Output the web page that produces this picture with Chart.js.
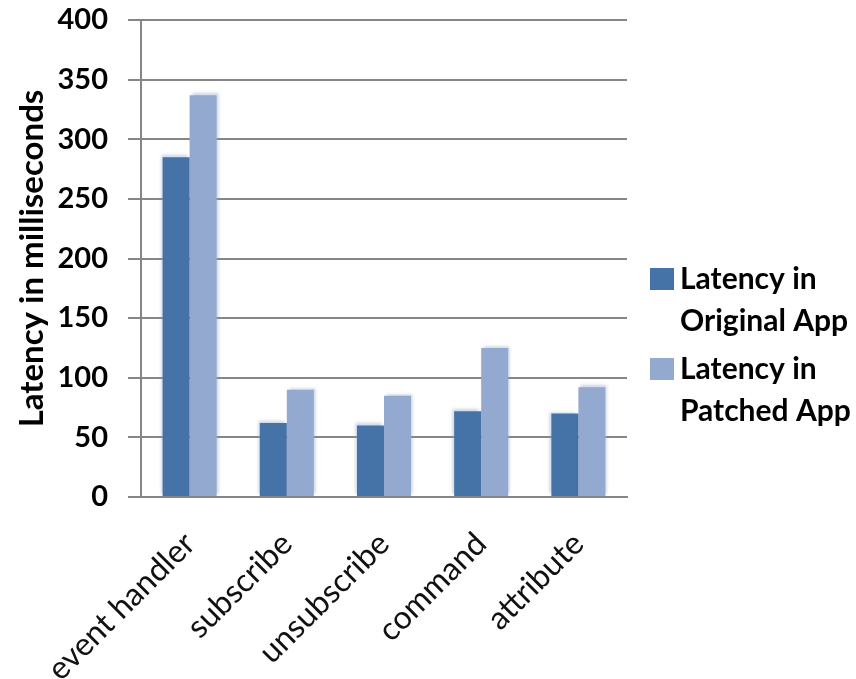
<!DOCTYPE html>
<html>
<head>
<meta charset="utf-8">
<script src="https://cdn.jsdelivr.net/npm/chart.js@4/dist/chart.umd.min.js"></script>
<style>
  html, body { margin: 0; padding: 0; background: #ffffff; }
  #wrap { width: 856px; height: 679px; position: relative; }
</style>
</head>
<body>
<div id="wrap"><canvas id="c" width="856" height="679"></canvas></div>
<script>
// Operation categories and measured latencies (ms)
const categories = ['event handler', 'subscribe', 'unsubscribe', 'command', 'attribute'];
const originalLatency = [285, 62, 60, 72, 70];
const patchedLatency = [337, 90, 85, 125, 92];
const yTickValues = [0, 50, 100, 150, 200, 250, 300, 350, 400];
const seriesNames = ['Latency in Original App', 'Latency in Patched App'];
const yAxisTitle = 'Latency in milliseconds';

const ORIGINAL_COLOR = '#4572A7';
const PATCHED_COLOR = '#93A9CF';
const GRID_COLOR = '#868686';
const FONT = 'Lato, "Open Sans", sans-serif';

// Soft halo around the bars, as in the office-style column chart
const barGlow = {
  id: 'barGlow',
  beforeDatasetDraw(chart, args) {
    const ctx = chart.ctx;
    ctx.save();
    ctx.shadowColor = 'rgba(140,160,195,0.45)';
    ctx.shadowBlur = 3;
    ctx.shadowOffsetX = args.index === 0 ? -2 : 2;
    ctx.shadowOffsetY = -2;
  },
  afterDatasetDraw(chart) {
    chart.ctx.restore();
  }
};

// Legend on the right with wrapped, two-line labels
const sideLegend = {
  id: 'sideLegend',
  afterDraw(chart) {
    const { ctx, chartArea } = chart;
    const x0 = chartArea.right + 23;
    const top0 = 268;
    const itemGap = 90;
    const lineGap = 42;
    ctx.save();
    ctx.font = 'bold 30px ' + FONT;
    ctx.textBaseline = 'alphabetic';
    ctx.textAlign = 'left';
    chart.data.datasets.forEach((ds, i) => {
      const top = top0 + i * itemGap;
      ctx.fillStyle = ds.backgroundColor;
      ctx.fillRect(x0, top, 24, 22);
      // first two words on the first line, the rest on the second
      const words = ds.label.split(' ');
      const lines = [words.slice(0, 2).join(' '), words.slice(2).join(' ')];
      ctx.fillStyle = '#000000';
      lines.forEach((line, j) => ctx.fillText(line, x0 + 30, top + 21 + j * lineGap));
    });
    ctx.restore();
  }
};

new Chart(document.getElementById('c'), {
  type: 'bar',
  data: {
    labels: categories,
    datasets: [
      {
        label: seriesNames[0],
        data: originalLatency,
        backgroundColor: ORIGINAL_COLOR,
        borderWidth: 0,
        categoryPercentage: 0.556,
        barPercentage: 1.0
      },
      {
        label: seriesNames[1],
        data: patchedLatency,
        backgroundColor: PATCHED_COLOR,
        borderWidth: 0,
        categoryPercentage: 0.556,
        barPercentage: 1.0
      }
    ]
  },
  options: {
    responsive: false,
    devicePixelRatio: 1,
    animation: false,
    layout: { padding: { top: 20, right: 229, bottom: 0, left: 0 } },
    plugins: {
      legend: { display: false },
      tooltip: { enabled: false }
    },
    scales: {
      x: {
        grid: { display: false, drawTicks: false },
        border: { display: true, color: GRID_COLOR, width: 2 },
        ticks: {
          color: '#111111',
          font: { family: FONT, size: 32 },
          minRotation: 45,
          maxRotation: 45,
          padding: 28,
          autoSkip: false
        },
        afterFit(scale) {
          scale.height = 182;
          scale.paddingLeft = 0;
          scale.paddingRight = 0;
        }
      },
      y: {
        min: 0,
        max: 400,
        afterBuildTicks(scale) { scale.ticks = yTickValues.map(v => ({ value: v })); },
        grid: { color: GRID_COLOR, lineWidth: 2, tickLength: 13, drawTicks: true },
        border: { display: true, color: GRID_COLOR, width: 2 },
        ticks: {
          color: '#000000',
          font: { family: FONT, size: 29, weight: 'bold' },
          padding: 20
        },
        title: {
          display: true,
          text: yAxisTitle,
          color: '#000000',
          font: { family: FONT, size: 33, weight: 'bold' },
          padding: { top: 13, bottom: 0 }
        },
        afterFit(scale) {
          scale.width = 141;
          scale.paddingTop = 0;
          scale.paddingBottom = 0;
        }
      }
    }
  },
  plugins: [barGlow, sideLegend]
});
</script>
</body>
</html>
